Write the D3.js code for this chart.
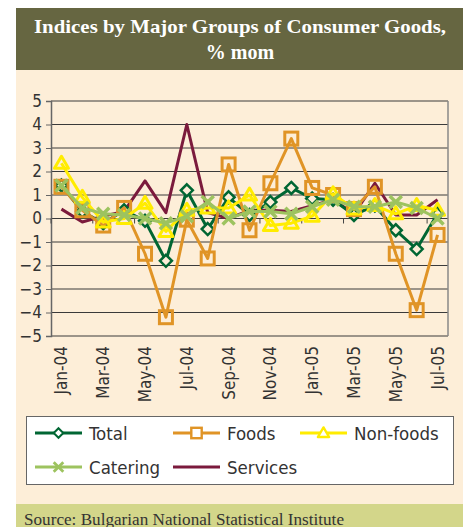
<!doctype html>
<html lang="en">
  <head>
    <meta charset="utf-8">
    <title>Indices by Major Groups of Consumer Goods</title>
    <script src="https://d3js.org/d3.v7.min.js"></script>
    <style>
      body { margin: 0; background: #fff; }
      text { font-family: 'DejaVu Sans Condensed', 'DejaVu Sans', sans-serif; }
    </style>
  </head>
  <body>
    <div id="root"></div>
  </body>
  <script>

    // data
    const months = ["Jan-04","Feb-04","Mar-04","Apr-04","May-04","Jun-04","Jul-04","Aug-04","Sep-04","Oct-04",
                    "Nov-04","Dec-04","Jan-05","Feb-05","Mar-05","Apr-05","May-05","Jun-05","Jul-05"];
    const total     = [1.4, 0.3, -0.2, 0.35, -0.1, -1.8, 1.2, -0.45, 0.9, 0.15, 0.7, 1.3, 0.85, 0.8, 0.15, 0.55, -0.5, -1.3, 0.2];
    const foods     = [1.35, 0.35, -0.3, 0.45, -1.5, -4.2, -0.05, -1.7, 2.3, -0.5, 1.5, 3.4, 1.3, 1.0, 0.4, 1.35, -1.5, -3.9, -0.7];
    const nonfoods  = [2.35, 0.9, -0.15, 0.0, 0.65, -0.55, 0.35, 0.45, 0.45, 1.0, -0.3, -0.2, 0.1, 1.05, 0.4, 0.55, 0.2, 0.55, 0.35];
    const catering  = [1.4, 0.45, 0.2, 0.15, 0.0, -0.2, 0.1, 0.7, 0.0, 0.3, 0.3, 0.2, 0.5, 0.8, 0.5, 0.5, 0.7, 0.45, 0.0];
    const services  = [0.4, -0.15, 0.1, 0.3, 1.6, 0.25, 4.0, 0.25, 0.0, 0.35, 0.35, 0.3, 0.55, 0.8, 0.2, 1.5, 0.15, 0.15, 0.8];
    const yTicks = [-5, -4, -3, -2, -1, 0, 1, 2, 3, 4, 5];

    const series = [
      {name: "Services", values: services, color: "#7b1a3c", marker: "none"},
      {name: "Total", values: total, color: "#006633", marker: "diamond"},
      {name: "Foods", values: foods, color: "#e09426", marker: "square"},
      {name: "Non-foods", values: nonfoods, color: "#ffec00", marker: "triangle"},
      {name: "Catering", values: catering, color: "#9dc35f", marker: "cross"}
    ];

    const W = 463, H = 527;
    const cream = "#fdeed8";

    const svg = d3.select("#root").append("svg")
      .attr("width", W).attr("height", H);

    // panels
    svg.append("rect").attr("x", 16).attr("y", 8).attr("width", W - 16).attr("height", 62).attr("fill", "#666641");
    svg.append("rect").attr("x", 16).attr("y", 70).attr("width", W - 16).attr("height", 434).attr("fill", cream);
    svg.append("rect").attr("x", 16).attr("y", 504).attr("width", W - 16).attr("height", 23).attr("fill", "#d3d68a");

    svg.append("text").attr("x", 240).attr("y", 33).attr("text-anchor", "middle")
      .attr("fill", "#fff").attr("font-size", 19).attr("font-weight", "bold")
      .style("font-family", "'Liberation Serif', serif")
      .attr("textLength", 412).attr("lengthAdjust", "spacingAndGlyphs")
      .text("Indices by Major Groups of Consumer Goods,");
    svg.append("text").attr("x", 240).attr("y", 59).attr("text-anchor", "middle")
      .attr("fill", "#fff").attr("font-size", 20).attr("font-weight", "bold")
      .style("font-family", "'Liberation Serif', serif")
      .text("% mom");

    svg.append("text").attr("x", 24).attr("y", 525)
      .attr("fill", "#333").attr("font-size", 16)
      .style("font-family", "'Liberation Serif', serif")
      .attr("textLength", 320).attr("lengthAdjust", "spacingAndGlyphs")
      .text("Source: Bulgarian National Statistical Institute");

    // scales
    const x = d3.scaleBand().domain(months).range([51, 448]);
    const y = d3.scaleLinear().domain([-5, 5]).range([336, 101]);
    const cx = d => x(d) + x.bandwidth() / 2;

    // grid
    svg.append("g").selectAll("line").data(yTicks).join("line")
      .attr("x1", 51).attr("x2", 448)
      .attr("y1", d => y(d)).attr("y2", d => y(d))
      .attr("stroke", "#3a3a3a").attr("stroke-width", 1);
    svg.append("line").attr("x1", 448).attr("x2", 448).attr("y1", y(5)).attr("y2", y(-5))
      .attr("stroke", "#888").attr("stroke-width", 1.5);

    // y axis
    const yAxis = svg.append("g").attr("transform", "translate(51,0)")
      .call(d3.axisLeft(y).tickValues(yTicks).tickSize(5).tickPadding(4));
    yAxis.select(".domain").attr("stroke", "#666").attr("stroke-width", 1.5);
    yAxis.selectAll(".tick line").attr("stroke", "#666");
    yAxis.selectAll("text").attr("font-size", 17).attr("fill", "#333")
      .style("font-family", "'DejaVu Sans Condensed', 'DejaVu Sans', sans-serif");

    // category ticks on zero line
    const boundaries = d3.range(0, months.length + 1, 2).map(i => 51 + i * x.step());
    svg.append("g").selectAll("line").data(boundaries).join("line")
      .attr("x1", d => d).attr("x2", d => d)
      .attr("y1", y(0)).attr("y2", y(0) + 5)
      .attr("stroke", "#444").attr("stroke-width", 1);

    // x labels
    svg.append("g").selectAll("text").data(months.filter((m, i) => i % 2 === 0)).join("text")
      .attr("transform", d => `translate(${cx(d) + 6},346) rotate(-90)`)
      .attr("text-anchor", "end")
      .attr("font-size", 17).attr("fill", "#333")
      .text(d => d);

    // markers
    function drawMarker(g, type, color) {
      if (type === "diamond") {
        g.append("path").attr("d", "M0,-6L6,0L0,6L-6,0Z")
          .attr("fill", cream).attr("stroke", color).attr("stroke-width", 2.5);
      } else if (type === "square") {
        g.append("rect").attr("x", -6.5).attr("y", -6.5).attr("width", 13).attr("height", 13)
          .attr("fill", "none").attr("stroke", color).attr("stroke-width", 3);
      } else if (type === "triangle") {
        g.append("path").attr("d", "M0,-7L7,5L-7,5Z")
          .attr("fill", "none").attr("stroke", color).attr("stroke-width", 3).attr("stroke-linejoin", "round");
      } else if (type === "cross") {
        g.append("path").attr("d", "M-6,-6L6,6M-6,6L6,-6")
          .attr("fill", "none").attr("stroke", color).attr("stroke-width", 3.5);
      }
    }

    const line = d3.line().x((d, i) => cx(months[i])).y(d => y(d));

    series.forEach(s => {
      svg.append("path").datum(s.values)
        .attr("d", line).attr("fill", "none")
        .attr("stroke", s.color).attr("stroke-width", 3)
        .attr("stroke-linejoin", "round");
      if (s.marker !== "none") {
        s.values.forEach((v, i) => {
          const g = svg.append("g").attr("transform", `translate(${cx(months[i])},${y(v)})`);
          drawMarker(g, s.marker, s.color);
        });
      }
    });

    // legend
    svg.append("rect").attr("x", 26.5).attr("y", 416.5).attr("width", 427).attr("height", 68)
      .attr("fill", "#fff").attr("stroke", "#666").attr("stroke-width", 1);

    const legendItems = [
      {name: "Total", color: "#006633", marker: "diamond", lx: 35, ly: 433},
      {name: "Foods", color: "#e09426", marker: "square", lx: 173, ly: 433},
      {name: "Non-foods", color: "#ffec00", marker: "triangle", lx: 300, ly: 433},
      {name: "Catering", color: "#9dc35f", marker: "cross", lx: 35, ly: 467},
      {name: "Services", color: "#7b1a3c", marker: "none", lx: 173, ly: 467}
    ];
    legendItems.forEach(it => {
      svg.append("line").attr("x1", it.lx).attr("x2", it.lx + 47)
        .attr("y1", it.ly).attr("y2", it.ly)
        .attr("stroke", it.color).attr("stroke-width", 3);
      const g = svg.append("g").attr("transform", `translate(${it.lx + 23.5},${it.ly}) scale(0.8)`);
      drawMarker(g, it.marker, it.color);
      g.selectAll("path, rect").attr("fill", "#fff");
      svg.append("text").attr("x", it.lx + 54).attr("y", it.ly + 6.5)
        .attr("font-size", 18.5).attr("fill", "#333").text(it.name);
    });

  </script>
</html>
